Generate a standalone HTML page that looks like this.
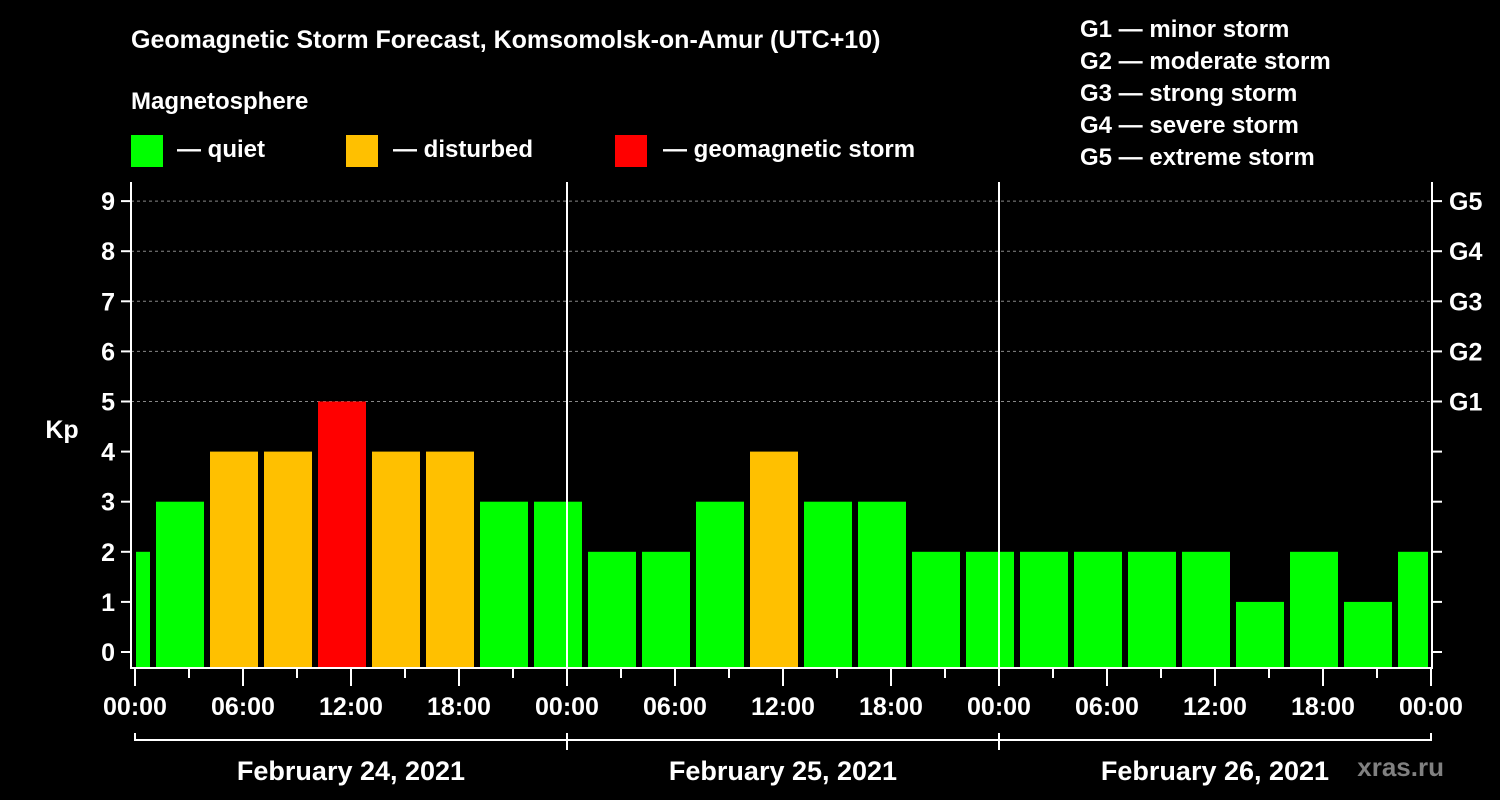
<!DOCTYPE html>
<html><head><meta charset="utf-8"><style>
html,body{margin:0;padding:0;background:#000;}
svg{display:block;font-family:"Liberation Sans",Arial,sans-serif;font-weight:bold;}
</style></head><body>
<svg id="chart" width="1500" height="800" viewBox="0 0 1500 800">
<rect width="1500" height="800" fill="#000"/>
<text x="131" y="48" fill="#fff" font-size="25">Geomagnetic Storm Forecast, Komsomolsk-on-Amur (UTC+10)</text>
<text x="131" y="109" fill="#fff" font-size="24">Magnetosphere</text>
<g><rect x="131" y="135" width="32" height="32" fill="#00ff00"/><text x="177" y="157" fill="#fff" font-size="24">— quiet</text></g>
<g><rect x="346" y="135" width="32" height="32" fill="#ffc000"/><text x="393" y="157" fill="#fff" font-size="24">— disturbed</text></g>
<g><rect x="615" y="135" width="32" height="32" fill="#ff0000"/><text x="663" y="157" fill="#fff" font-size="24">— geomagnetic storm</text></g>
<g fill="#fff" font-size="24">
<text x="1080" y="37">G1 — minor storm</text>
<text x="1080" y="69">G2 — moderate storm</text>
<text x="1080" y="101">G3 — strong storm</text>
<text x="1080" y="133">G4 — severe storm</text>
<text x="1080" y="165">G5 — extreme storm</text>
</g>
<text x="62" y="438" fill="#fff" font-size="25" text-anchor="middle">Kp</text>
<text x="1444" y="776" fill="#808080" font-size="26" text-anchor="end">xras.ru</text>
<g id="grid"></g><g id="bars"></g><g id="axes"></g>
</svg>
<script>
const kpValues=[2,3,4,4,5,4,4,3,3,2,2,3,4,3,3,2,2,2,2,2,2,1,2,1,2];
const binStartHours=[-2,1,4,7,10,13,16,19,22,25,28,31,34,37,40,43,46,49,52,55,58,61,64,67,70];
const yTicks=[0,1,2,3,4,5,6,7,8,9];
const gLabels=["G1","G2","G3","G4","G5"];
const gLevels=[5,6,7,8,9];
const xTickLabels=["00:00","06:00","12:00","18:00","00:00","06:00","12:00","18:00","00:00","06:00","12:00","18:00","00:00"];
const dateLabels=["February 24, 2021","February 25, 2021","February 26, 2021"];
const NS="http://www.w3.org/2000/svg";
const X0=135,PX_H=18,L=131,R=1432,T=182,B=668;
const x=h=>X0+h*PX_H;
const y=v=>652-v*50.1;
function mk(tag,attrs,parent,txt){const e=document.createElementNS(NS,tag);for(const k in attrs)e.setAttribute(k,attrs[k]);if(txt!==undefined)e.textContent=txt;parent.appendChild(e);return e;}
const grid=document.getElementById('grid'),bars=document.getElementById('bars'),axes=document.getElementById('axes');
gLevels.forEach((v,i)=>{
 const g=mk('line',{x1:L,x2:R,y1:y(v),y2:y(v),stroke:'#888','stroke-dasharray':'3,3','stroke-width':1},grid);
 
 
 const t=mk('text',{x:1449,y:y(v)+9,fill:'#fff','font-size':25},axes,gLabels[i]);
 
 
});
kpValues.forEach((v,i)=>{
 let a=Math.max(x(binStartHours[i])+3,L+5),b=Math.min(x(binStartHours[i]+3)-3,R-4);
 const col=v>=5?'#ff0000':(v>=4?'#ffc000':'#00ff00');
 const r=mk('rect',{x:a,y:y(v),width:b-a,height:B-y(v),fill:col},bars);
 
 
});
[24,48].forEach(h=>{mk('line',{x1:x(h),x2:x(h),y1:T,y2:B,stroke:'#fff','stroke-width':2},axes);});
mk('path',{d:`M${L} ${T}V${B}H${R}V${T}`,stroke:'#fff','stroke-width':2,fill:'none'},axes);
yTicks.forEach(v=>{
 mk('line',{x1:L-10,x2:L,y1:y(v),y2:y(v),stroke:'#fff','stroke-width':2},axes);
 mk('line',{x1:R,x2:R+10,y1:y(v),y2:y(v),stroke:'#fff','stroke-width':2},axes);
 const t=mk('text',{x:L-16,y:y(v)+9,fill:'#fff','font-size':25,'text-anchor':'end'},axes,String(v));
 
 
});
for(let h=0;h<=72;h+=3){mk('line',{x1:x(h),x2:x(h),y1:B,y2:h%6===0?686:678,stroke:'#fff','stroke-width':2},axes);}
xTickLabels.forEach((s,i)=>{
 const t=mk('text',{x:x(i*6),y:715,fill:'#fff','font-size':25,'text-anchor':'middle'},axes,s);
 
 
});
mk('path',{d:`M${x(0)} 733V740H${x(72)}V733`,stroke:'#fff','stroke-width':2,fill:'none'},axes);
[24,48].forEach(h=>mk('line',{x1:x(h),x2:x(h),y1:733,y2:750,stroke:'#fff','stroke-width':2},axes));
dateLabels.forEach((s,i)=>{
 const t=mk('text',{x:x(i*24+12),y:780,fill:'#fff','font-size':27,'text-anchor':'middle'},axes,s);
 
 
});
</script>
</body></html>
